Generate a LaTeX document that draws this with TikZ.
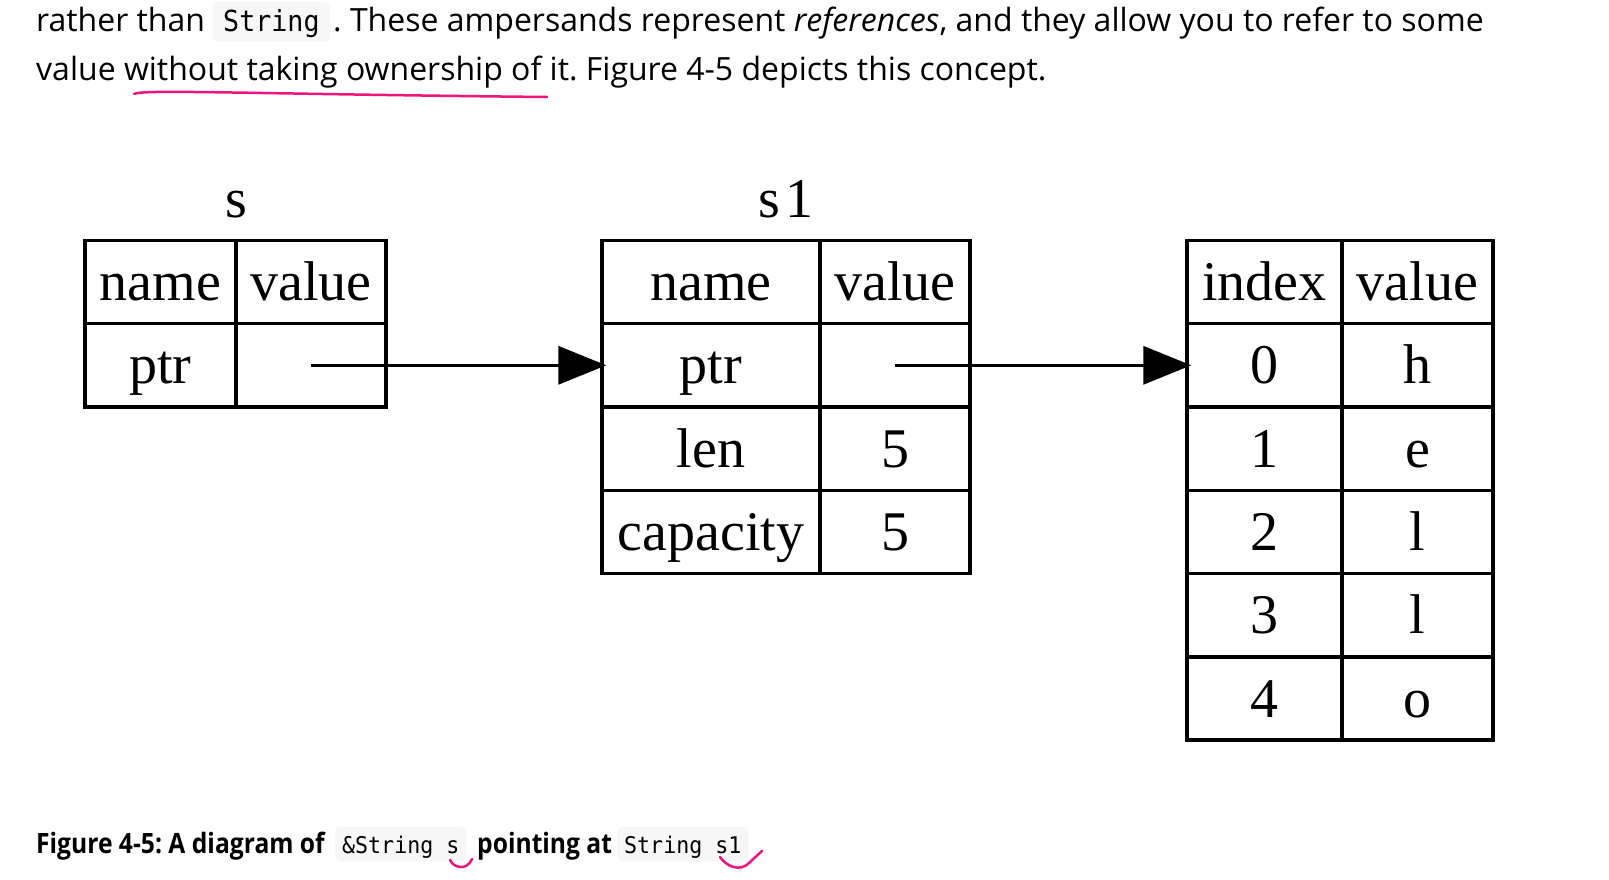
\documentclass[tikz,border=0pt]{standalone}
\usepackage{fontspec}
\setmainfont{Liberation Serif}
\newfontfamily\bodyf{Open Sans}
\newfontfamily\capf[FakeStretch=0.88]{Open Sans}
\newfontfamily\monof[FakeStretch=0.92]{DejaVu Sans Mono}
\newfontfamily\monocap[FakeStretch=0.94]{DejaVu Sans Mono}
\usetikzlibrary{arrows.meta}
\definecolor{codebg}{HTML}{F6F7F6}
\definecolor{pinkink}{RGB}{240,20,125}
\frenchspacing
\begin{document}
\begin{tikzpicture}[x=1pt,y=-1pt,
  cell/.style={draw, line width=3.5pt, inner sep=0pt, minimum height=83.3pt,
    text height=50pt, text depth=13pt, font=\fontsize{56}{60}\selectfont},
  wcol/.style={cell, minimum width=#1pt},
  lbl/.style={anchor=base, inner sep=0pt, font=\fontsize{56}{60}\selectfont},
  ptr/.style={line width=3.5pt, shorten >=-6pt, -{Triangle[length=48pt,width=38pt]}},
  bodytxt/.style={anchor=base west, inner sep=0pt, font=\bodyf\fontsize{32}{40}\selectfont},
  captxt/.style={anchor=base west, inner sep=0pt, font=\capf\bfseries\fontsize{28}{34}\selectfont},
  codebig/.style={anchor=base west, fill=codebg, rounded corners=5pt, inner xsep=10pt, inner ysep=3pt,
    text height=27pt, text depth=7pt, font=\monof\fontsize{29}{34}\selectfont},
  codesmall/.style={anchor=base west, fill=codebg, rounded corners=5pt, inner xsep=7pt, inner ysep=3pt,
    text height=23pt, text depth=5pt, font=\monocap\fontsize{23}{27}\selectfont},
  ink/.style={pinkink, line width=2.5pt, line cap=round}
]
\useasboundingbox (0,0) rectangle (1609,880);
\fill[white] (0,0) rectangle (1609,880);

% body text
\node[bodytxt] (l1a) at (36,32) {rather than};
\node[codebig] (l1c) at (213,32) {String};
\node[bodytxt] (l1b) at (333,32) {. These ampersands represent \textit{references}, and they allow you to refer to some};
\node[bodytxt] (l2) at (36,81) {value without taking ownership of it. Figure 4-5 depicts this concept.};
\draw[ink] (134,94) .. controls (142,89) and (250,94) .. (547,97);

% table s
\node[lbl] (slbl) at (236,217) {s};
\node[wcol=151] (s-n0) at (160.5,282) {name};
\node[wcol=150] (s-v0) at (311,282) {value};
\node[wcol=151] (s-n1) at (160.5,365.3) {ptr};
\node[wcol=150] (s-v1) at (311,365.3) {};

% table s1
\node[lbl] (s1lbl) at (786,217) {s\kern5pt 1};
\node[wcol=218] (a-n0) at (711,282) {name};
\node[wcol=150] (a-v0) at (895,282) {value};
\node[wcol=218] (a-n1) at (711,365.3) {ptr};
\node[wcol=150] (a-v1) at (895,365.3) {};
\node[wcol=218] (a-n2) at (711,448.6) {len};
\node[wcol=150] (a-v2) at (895,448.6) {5};
\node[wcol=218] (a-n3) at (711,531.9) {capacity};
\node[wcol=150] (a-v3) at (895,531.9) {5};

% table heap
\node[wcol=155] (h-i0) at (1264.5,282) {index};
\node[wcol=151] (h-v0) at (1417.5,282) {value};
\node[wcol=155] (h-i1) at (1264.5,365.3) {0};
\node[wcol=151] (h-v1) at (1417.5,365.3) {h};
\node[wcol=155] (h-i2) at (1264.5,448.6) {1};
\node[wcol=151] (h-v2) at (1417.5,448.6) {e};
\node[wcol=155] (h-i3) at (1264.5,531.9) {2};
\node[wcol=151] (h-v3) at (1417.5,531.9) {l};
\node[wcol=155] (h-i4) at (1264.5,615.2) {3};
\node[wcol=151] (h-v4) at (1417.5,615.2) {l};
\node[wcol=155] (h-i5) at (1264.5,698.5) {4};
\node[wcol=151] (h-v5) at (1417.5,698.5) {o};

% pointers
\draw[ptr] (s-v1.center) -- (a-n1.west);
\draw[ptr] (a-v1.center) -- (h-i1.west);

% caption
\node[captxt] (cap1) at (36,853) {Figure 4-5: A diagram of};
\node[codesmall] (capc1) at (335,853) {\&String s};
\node[captxt] (cap2) at (477,853) {pointing at};
\node[codesmall] (capc2) at (617,853) {String s1};
\draw[ink] (450,860) .. controls (453,867) and (466,872) .. (472,859);
\draw[ink] (720,857) .. controls (726,866) and (740,873) .. (750,862) -- (762,851);
\end{tikzpicture}
\end{document}
